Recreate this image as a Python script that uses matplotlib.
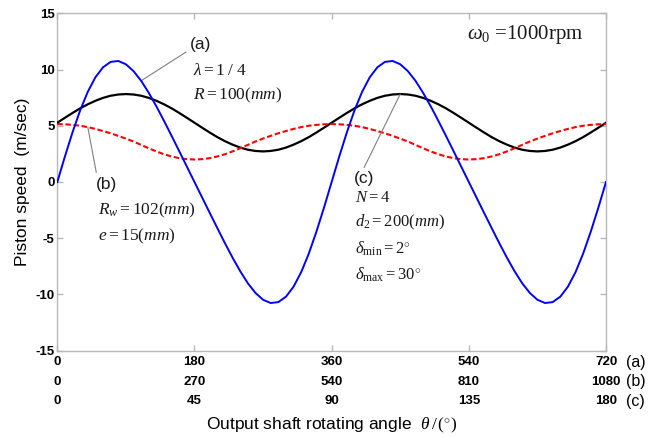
import matplotlib
matplotlib.use("Agg")
import matplotlib.pyplot as plt

plt.rcParams["font.family"] = ["Liberation Sans", "DejaVu Sans"]
plt.rcParams["mathtext.fontset"] = "custom"
plt.rcParams["mathtext.rm"] = "Liberation Serif"
plt.rcParams["mathtext.it"] = "Liberation Serif:italic"
plt.rcParams["mathtext.bf"] = "Liberation Serif:bold"

# Output shaft angle for mechanism (a), degrees
theta_a = list(range(0, 721, 10))

# (a) crank-slider piston speed, m/s
speed_a = [0.00, 2.27, 4.42, 6.37, 8.02, 9.31, 10.20, 10.68, 10.76, 10.47,
           9.86, 9.00, 7.93, 6.73, 5.44, 4.10, 2.74, 1.37, 0.00,
           -1.37, -2.74, -4.10, -5.44, -6.73, -7.93, -9.00, -9.86, -10.47,
           -10.76, -10.68, -10.20, -9.31, -8.02, -6.37, -4.42, -2.27,
           0.00, 2.27, 4.42, 6.37, 8.02, 9.31, 10.20, 10.68, 10.76, 10.47,
           9.86, 9.00, 7.93, 6.73, 5.44, 4.10, 2.74, 1.37, 0.00,
           -1.37, -2.74, -4.10, -5.44, -6.73, -7.93, -9.00, -9.86, -10.47,
           -10.76, -10.68, -10.20, -9.31, -8.02, -6.37, -4.42, -2.27, 0.00]

# (b) wobble-plate piston speed, m/s
speed_b = [5.15, 5.13, 5.08, 5.00, 4.88, 4.72, 4.53, 4.33, 4.10, 3.86,
           3.60, 3.30, 3.00, 2.72, 2.47, 2.27, 2.12, 2.03, 2.00,
           2.03, 2.12, 2.27, 2.47, 2.72, 3.00, 3.30, 3.60, 3.86,
           4.10, 4.33, 4.53, 4.72, 4.88, 5.00, 5.08, 5.13,
           5.15, 5.13, 5.08, 5.00, 4.88, 4.72, 4.53, 4.33, 4.10, 3.86,
           3.60, 3.30, 3.00, 2.72, 2.47, 2.27, 2.12, 2.03, 2.00,
           2.03, 2.12, 2.27, 2.47, 2.72, 3.00, 3.30, 3.60, 3.86,
           4.10, 4.33, 4.53, 4.72, 4.88, 5.00, 5.08, 5.13, 5.15]

# (c) cam-driven piston speed, m/s
speed_c = [5.27, 5.71, 6.14, 6.55, 6.91, 7.22, 7.48, 7.67, 7.78, 7.82,
           7.78, 7.67, 7.48, 7.22, 6.91, 6.55, 6.14, 5.71, 5.27,
           4.83, 4.40, 3.99, 3.63, 3.32, 3.06, 2.87, 2.76, 2.72,
           2.76, 2.87, 3.06, 3.32, 3.63, 3.99, 4.40, 4.83,
           5.27, 5.71, 6.14, 6.55, 6.91, 7.22, 7.48, 7.67, 7.78, 7.82,
           7.78, 7.67, 7.48, 7.22, 6.91, 6.55, 6.14, 5.71, 5.27,
           4.83, 4.40, 3.99, 3.63, 3.32, 3.06, 2.87, 2.76, 2.72,
           2.76, 2.87, 3.06, 3.32, 3.63, 3.99, 4.40, 4.83, 5.27]

# Tick labels of the three angle scales
ticks_a = [0, 180, 360, 540, 720]
ticks_b = [0, 270, 540, 810, 1080]
ticks_c = [0, 45, 90, 135, 180]
scale_names = ["(a)", "(b)", "(c)"]
yticks = [-15, -10, -5, 0, 5, 10, 15]

W, H = 669, 437
fig = plt.figure(figsize=(W / 100, H / 100), dpi=100)


def fpos(x, y):
    """pixel position (from top-left) -> figure fraction"""
    return x / W, 1 - y / H


L, R, T, B = 57.3, 606.0, 13.3, 350.7
ax = fig.add_axes([L / W, 1 - B / H, (R - L) / W, (B - T) / H])

ax.plot(theta_a, speed_c, color="black", lw=1.6, zorder=3)
ax.plot(theta_a, speed_b, color="#ff0000", lw=1.5, dashes=(2.6, 1.3), zorder=3)
ax.plot(theta_a, speed_a, color="#0000ff", lw=1.4, zorder=4)

ax.set_xlim(0, 720)
ax.set_ylim(-15, 15)
ax.set_yticks(yticks)
ax.set_yticklabels([str(v) for v in yticks], fontsize=9.5, fontweight="bold")
ax.set_xticks(ticks_a)
ax.set_xticklabels([])

grey = "#b8b8b8"
for s in ax.spines.values():
    s.set_color(grey)
    s.set_linewidth(1.0)
ax.tick_params(direction="in", length=4, width=1.0, color=grey,
               top=True, right=True, pad=2)

# three rows of angle labels below the axis
rows = [ticks_a, ticks_b, ticks_c]
offsets = [-11.5, -31.0, -50.5]
for row, name, dy in zip(rows, scale_names, offsets):
    for xa, lab in zip(ticks_a, row):
        ax.annotate(str(lab), xy=(xa, 0), xycoords=("data", "axes fraction"),
                    xytext=(0, dy), textcoords="offset pixels",
                    ha="center", va="center", fontsize=9.5, fontweight="bold")
    ax.annotate(name, xy=(720, 0), xycoords=("data", "axes fraction"),
                xytext=(20, dy), textcoords="offset pixels",
                ha="left", va="center", fontsize=11.5)

fig.text(*fpos(331.5, 425), r"Output shaft rotating angle  $\theta\,/\,(^{\circ})$",
         ha="center", va="center", fontsize=12.5)
fig.text(*fpos(23, 182), "Piston speed  (m/sec)", rotation=90,
         ha="center", va="center", fontsize=12.5)

tc = "#1a1a1a"
lead = dict(arrowstyle="-", color="#808080", lw=0.8, shrinkA=1, shrinkB=0)

# mechanism (a) labels
ax.annotate("(a)", xy=(theta_a[11], speed_a[11]), xycoords="data",
            xytext=fpos(190, 45), textcoords="figure fraction",
            ha="left", va="center", fontsize=12.5, color=tc,
            arrowprops=dict(lead, relpos=(0.0, 0.2)))
fig.text(*fpos(193, 70), r"$\lambda = 1\;/\;4$", ha="left", va="center",
         fontsize=12.5, color=tc)
fig.text(*fpos(193, 95), r"$R = 100(mm)$", ha="left", va="center",
         fontsize=12.5, color=tc)

# mechanism (b) labels
ax.annotate("(b)", xy=(theta_a[4], speed_b[4]), xycoords="data",
            xytext=fpos(96, 184), textcoords="figure fraction",
            ha="left", va="center", fontsize=12.5, color=tc,
            arrowprops=dict(lead, relpos=(0.05, 1.0)))
fig.text(*fpos(98, 210), r"$R_w = 102(mm)$", ha="left", va="center",
         fontsize=12.5, color=tc)
fig.text(*fpos(98, 236), r"$e = 15(mm)$", ha="left", va="center",
         fontsize=12.5, color=tc)

# mechanism (c) labels
ax.annotate("(c)", xy=(theta_a[45], speed_c[45]), xycoords="data",
            xytext=fpos(354, 179), textcoords="figure fraction",
            ha="left", va="center", fontsize=12.5, color=tc,
            arrowprops=dict(lead, relpos=(0.4, 1.0)))
fig.text(*fpos(355, 197), r"$N = 4$", ha="left", va="center",
         fontsize=12, color=tc)
fig.text(*fpos(355, 222), r"$d_2 = 200(mm)$", ha="left", va="center",
         fontsize=12, color=tc)
fig.text(*fpos(355, 249), r"$\delta_{\rm min} = 2^{\circ}$", ha="left", va="center",
         fontsize=12, color=tc)
fig.text(*fpos(355, 275), r"$\delta_{\rm max} = 30^{\circ}$", ha="left", va="center",
         fontsize=12, color=tc)

fig.text(*fpos(467, 34), r"$\omega_0$ =1000rpm", ha="left", va="center",
         fontsize=15, color=tc, family=["Liberation Serif", "DejaVu Serif"])

fig.savefig("out.png", dpi=100)
